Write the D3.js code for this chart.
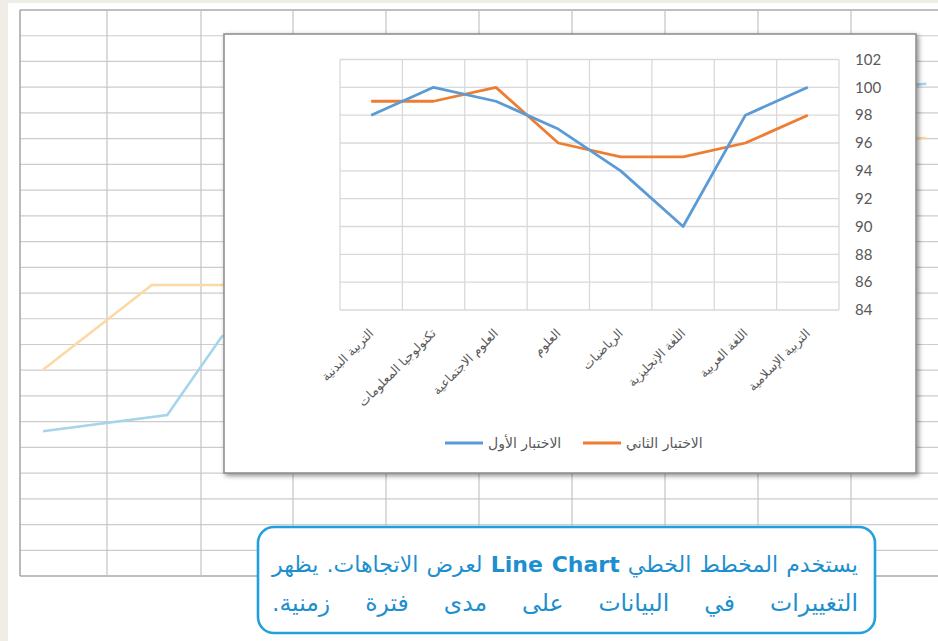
<!DOCTYPE html>
<html>
<head>
<meta charset="utf-8">
<script src="https://cdn.jsdelivr.net/npm/d3@7"></script>
<style>
  body { margin: 0; background: #efede6; }
  svg { display: block; }
</style>
</head>
<body>
<div id="chart"></div>
<script>
// chart data (categories read right-to-left in the original, drawn left to right here)
var categories = ["التربية البدنية", "تكنولوجيا المعلومات", "العلوم الاجتماعية", "العلوم",
                  "الرياضيات", "اللغة الإنجليزية", "اللغة العربية", "التربية الإسلامية"];
var firstTest = [98, 100, 99, 97, 94, 90, 98, 100];
var secondTest = [99, 99, 100, 96, 95, 95, 96, 98];
var yTicks = [84, 86, 88, 90, 92, 94, 96, 98, 100, 102];
var seriesNames = ["الاختبار الأول", "الاختبار الثاني"];

// faint chart peeking out behind the sheet
var ghostFirst = [[0, 9], [13.7, 12.8], [19.7, 31], [60, 70], [96, 89.6], [97.4, 89.8]];
var ghostSecond = [[0, 23.3], [12, 43], [19.7, 43], [60, 60], [96, 77.1], [97.4, 77.2]];

var calloutLine1 = ["يستخدم المخطط الخطي ", "Line Chart", " لعرض الاتجاهات. يظهر"];
var calloutLine2 = "التغييرات في البيانات على مدى فترة زمنية.";

var svgWidth = 938;
var svgHeight = 641;

var svg = d3.select("#chart")
  .append("svg")
  .attr("width", svgWidth)
  .attr("height", svgHeight);

var defs = svg.append("defs");
var shadow = defs.append("filter").attr("id", "shadow")
  .attr("x", "-5%").attr("y", "-5%").attr("width", "110%").attr("height", "115%");
shadow.append("feDropShadow")
  .attr("dx", 2).attr("dy", 2).attr("stdDeviation", 2.5)
  .attr("flood-color", "#000").attr("flood-opacity", 0.45);

// page
svg.append("rect").attr("x", 8).attr("y", 3)
  .attr("width", svgWidth - 8).attr("height", svgHeight - 3)
  .attr("fill", "#ffffff");

// spreadsheet grid behind the chart
var sheet = svg.append("g");
var rowTop = 10, rowH = 25.73, rowCount = 22;
var colX = [20, 107, 201].concat(d3.range(0, 8).map(i => 293 + i * 93));

d3.range(0, rowCount + 1).forEach(function(i) {
  sheet.append("line")
    .attr("x1", 20).attr("x2", svgWidth)
    .attr("y1", rowTop + i * rowH).attr("y2", rowTop + i * rowH)
    .attr("stroke", (i == 0 || i == rowCount) ? "#a9a9a9" : "#cccccc")
    .attr("stroke-width", (i == 0 || i == rowCount) ? 1.6 : 1.2);
});
colX.forEach(function(x, i) {
  sheet.append("line")
    .attr("x1", x).attr("x2", x)
    .attr("y1", rowTop).attr("y2", rowTop + rowCount * rowH)
    .attr("stroke", i == 0 ? "#a9a9a9" : "#c4c4c4")
    .attr("stroke-width", i == 0 ? 1.6 : 1.2);
});

var gx = d3.scaleLinear().domain([0, 100]).range([43, 950]);
var gy = d3.scaleLinear().domain([0, 100]).range([470, 40]);
var ghostLine = d3.line().x(d => gx(d[0])).y(d => gy(d[1]));
sheet.append("path").attr("d", ghostLine(ghostSecond))
  .attr("fill", "none").attr("stroke", "#fcd9a2").attr("stroke-width", 2.5);
sheet.append("path").attr("d", ghostLine(ghostFirst))
  .attr("fill", "none").attr("stroke", "#a6d4ec").attr("stroke-width", 2.5);

// chart frame
var frame = { x: 224, y: 34, w: 692, h: 439 };
svg.append("rect")
  .attr("x", frame.x).attr("y", frame.y)
  .attr("width", frame.w).attr("height", frame.h)
  .attr("fill", "#ffffff")
  .attr("stroke", "#8a8a8a")
  .attr("stroke-width", 1.5)
  .attr("filter", "url(#shadow)");

// plot area
var plot = { left: 340, right: 839, top: 59.5, bottom: 310 };

var xScale = d3.scaleBand()
  .domain(categories)
  .range([plot.left, plot.right])
  .padding(0);

var yScale = d3.scaleLinear()
  .domain([84, 102])
  .range([plot.bottom, plot.top]);

var chartGroup = svg.append("g");

// horizontal gridlines
chartGroup.append("g")
  .selectAll("line")
  .data(yTicks)
  .enter()
  .append("line")
  .attr("x1", plot.left).attr("x2", plot.right)
  .attr("y1", d => yScale(d)).attr("y2", d => yScale(d))
  .attr("stroke", "#d9d9d9").attr("stroke-width", 1.3);

// vertical gridlines on category boundaries
var bounds = categories.map(c => xScale(c)).concat([plot.right]);
chartGroup.append("g")
  .selectAll("line")
  .data(bounds)
  .enter()
  .append("line")
  .attr("x1", d => d).attr("x2", d => d)
  .attr("y1", plot.top).attr("y2", plot.bottom)
  .attr("stroke", "#d9d9d9").attr("stroke-width", 1.3);

// right value axis
var rightAxis = d3.axisRight(yScale).tickValues(yTicks).tickSize(0).tickPadding(0);
var yAxis = chartGroup.append("g")
  .attr("transform", `translate(855, 0)`)
  .call(rightAxis);
yAxis.select(".domain").remove();
yAxis.selectAll("text")
  .attr("fill", "#595959")
  .style("font-family", "Lato, 'Open Sans', sans-serif")
  .style("font-size", "15px");

// category labels, rotated
var bottomAxis = d3.axisBottom(xScale).tickSize(0).tickPadding(0);
var xAxis = chartGroup.append("g")
  .attr("transform", `translate(0, ${plot.bottom})`)
  .call(bottomAxis);
xAxis.select(".domain").remove();
xAxis.selectAll("text")
  .attr("fill", "#595959")
  .style("font-family", "'DejaVu Sans', sans-serif")
  .style("font-size", "12.5px")
  .attr("text-anchor", "end")
  .attr("dy", "0.35em")
  .attr("transform", "translate(0, 21) rotate(-45)");

// series lines
var lineGen = d3.line()
  .x((d, i) => xScale(categories[i]) + xScale.bandwidth() / 2)
  .y(d => yScale(d));

chartGroup.append("path")
  .attr("d", lineGen(secondTest))
  .attr("fill", "none")
  .attr("stroke", "#ed7d31")
  .attr("stroke-width", 2.8)
  .attr("stroke-linejoin", "round");

chartGroup.append("path")
  .attr("d", lineGen(firstTest))
  .attr("fill", "none")
  .attr("stroke", "#5b9bd5")
  .attr("stroke-width", 2.8)
  .attr("stroke-linejoin", "round");

// legend
var legendItems = [
  { name: seriesNames[0], color: "#5b9bd5", x: 445 },
  { name: seriesNames[1], color: "#ed7d31", x: 583 }
];
var legend = chartGroup.append("g");
legendItems.forEach(function(item) {
  legend.append("line")
    .attr("x1", item.x).attr("x2", item.x + 38)
    .attr("y1", 443).attr("y2", 443)
    .attr("stroke", item.color).attr("stroke-width", 2.8);
  legend.append("text")
    .attr("x", item.x + 43).attr("y", 443)
    .attr("dy", "0.35em")
    .attr("fill", "#595959")
    .style("font-family", "'DejaVu Sans', sans-serif")
    .style("font-size", "14px")
    .text(item.name);
});

// callout box
svg.append("rect")
  .attr("x", 258).attr("y", 527)
  .attr("width", 617).attr("height", 106)
  .attr("rx", 16).attr("ry", 16)
  .attr("fill", "#ffffff")
  .attr("stroke", "#22a0dd")
  .attr("stroke-width", 2.6);

var textRight = 858, textWidth = 586;

var line1 = svg.append("text")
  .attr("x", textRight).attr("y", 572)
  .attr("text-anchor", "start")
  .attr("direction", "rtl")
  .attr("fill", "#1d8fcf")
  .style("font-family", "'DejaVu Sans', sans-serif")
  .style("font-size", "22px");
calloutLine1.forEach(function(part, i) {
  line1.append("tspan")
    .style("font-weight", i == 1 ? "bold" : "normal")
    .text(part);
});

var line2 = svg.append("text")
  .attr("x", textRight).attr("y", 611)
  .attr("text-anchor", "start")
  .attr("direction", "rtl")
  .attr("fill", "#1d8fcf")
  .style("font-family", "'DejaVu Sans', sans-serif")
  .style("font-size", "23.5px")
  .text(calloutLine2);

// justify both lines across the box, as in the printed page
[[line1, 7], [line2, 6]].forEach(function(pair) {
  var w = pair[0].node().getComputedTextLength();
  var extra = Math.max(0, (textWidth - w) / pair[1]);
  pair[0].style("word-spacing", extra + "px");
});
</script>
</body>
</html>
